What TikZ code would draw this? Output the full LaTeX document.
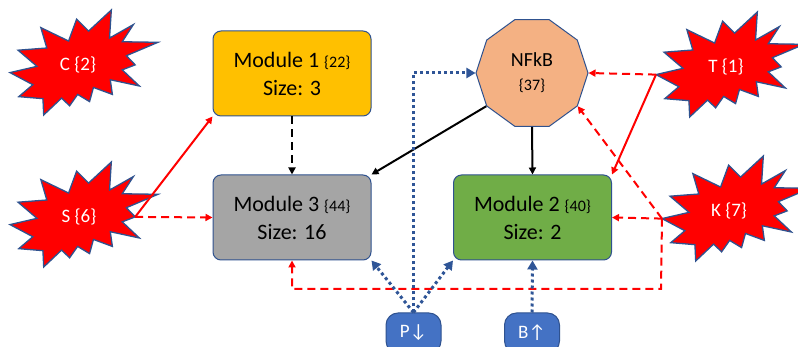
\documentclass[tikz,border=0pt]{standalone}
\usepackage{fontspec}
\setmainfont{Carlito}
\usetikzlibrary{shapes.geometric,arrows.meta,calc}
\definecolor{bblue}{HTML}{2F528F}
\definecolor{dotblue}{HTML}{2F5597}
\definecolor{m1fill}{HTML}{FFC000}
\definecolor{m3fill}{HTML}{A5A5A5}
\definecolor{m2fill}{HTML}{70AD47}
\definecolor{nffill}{HTML}{F4B183}
\definecolor{pfill}{HTML}{4472C4}
\definecolor{linkred}{HTML}{FF0000}
\newcommand{\drawburst}[2]{%
  \path[burstshape, shift={(#1,#2)}, xscale=148/216, yscale=105/216]
    (114.62,43.42) -- (97.22,18.87) -- (85.50,63.82) -- (45.02,36.25) -- (53.72,78.17)
    -- (11.72,82.70) -- (39.35,115.92) -- (0,128.77) -- (33.30,153.70) -- (12.85,178.25)
    -- (48.05,182.40) -- (49.17,216.00) -- (75.27,181.25) -- (87.00,197.12) -- (98.72,173.70)
    -- (116.12,188.42) -- (121.80,159.35) -- (149.42,173.70) -- (146.40,143.50) -- (188.77,156.32)
    -- (163.80,123.10) -- (182.70,112.90) -- (169.85,94.02) -- (216.00,66.45) -- (163.80,65.32)
    -- (180.07,30.00) -- (145.25,57.77) -- (147.90,0) -- cycle;}
\tikzset{
  burstshape/.style={fill=linkred, draw=bblue, line width=1.3pt, line join=miter},
  bursttext/.style={text=white, font=\fontsize{19}{22}\selectfont, inner sep=0pt},
  module/.style={draw=bblue, line width=1pt, rounded corners=8pt, minimum width=158pt,
    minimum height=85pt, align=center, inner sep=0pt, font=\fontsize{22}{28}\selectfont},
  hub/.style={regular polygon, regular polygon sides=10, minimum size=112pt, inner sep=0pt,
    draw=bblue, line width=1pt, fill=nffill, align=center, font=\fontsize{20}{22}\selectfont},
  pill/.style={draw=bblue, line width=1pt, fill=pfill, rounded corners=12pt, minimum width=55pt,
    minimum height=40pt, inner sep=0pt, text=white, font=\fontsize{19}{22}\selectfont},
  redsolid/.style={draw=linkred, line width=2pt, -{Triangle[length=7pt,width=7pt]}},
  reddash/.style={redsolid, dash pattern=on 8pt off 5pt},
  blacksolid/.style={draw=black, line width=2pt, -{Triangle[length=7pt,width=7pt]}},
  blackdash/.style={blacksolid, dash pattern=on 8pt off 5pt},
  bluedot/.style={draw=dotblue, line width=3pt, dash pattern=on 3pt off 3pt,
    -{Triangle[length=9pt,width=10pt]}},
}
\begin{document}
\begin{tikzpicture}[x=1pt,y=-1pt]
\useasboundingbox (0,0) rectangle (798,347);
\fill[white] (0,0) rectangle (798,347);
% starbursts
\drawburst{10}{10}
\drawburst{10}{162}
\drawburst{656}{12}
\drawburst{662}{156}
\node[bursttext] (C) at (78,65) {C \{2\}};
\node[bursttext] (S) at (79,217) {S \{6\}};
\node[bursttext] (T) at (726,67) {T \{1\}};
\node[bursttext] (K) at (729,211) {K \{7\}};
\coordinate (S-out) at (135.2,216.9);
\coordinate (T-out) at (656,74.6);
\coordinate (K-out) at (662,218.6);
\coordinate (kb) at (661,289);
% modules
\node[module, fill=m1fill] (m1) at (292,73.5) {Module 1 {\fontsize{16}{28}\selectfont\{22\}}\\Size: 3};
\node[module, fill=m3fill] (m3) at (292,217.5) {Module 3 {\fontsize{16}{28}\selectfont\{44\}}\\Size: 16};
\node[module, fill=m2fill] (m2) at (532.5,217.5) {Module 2 {\fontsize{16}{28}\selectfont\{40\}}\\Size: 2};
\node[hub] (nf) at (532,73) {NFkB\\[2pt]{\fontsize{16}{18}\selectfont\{37\}}};
\node[pill] (P) at (413.5,333) {P↓};
\node[pill] (B) at (532,333) {B↑};
% connectors
\draw[redsolid] (S-out) -- (m1.south west);
\draw[reddash] (S-out) -- (m3.west);
\draw[blackdash] (m1.south) -- (m3.north);
\draw[blacksolid] (nf.216) -- (m3.north east);
\draw[blacksolid] (nf.south) -- (m2.north);
\draw[reddash] (T-out) -- (nf.0);
\draw[redsolid] (T-out) -- (m2.north east);
\draw[reddash] (K-out) -- (nf.324);
\draw[reddash] (K-out) -- (m2.east);
\draw[reddash] (K-out) -- (kb) -- (kb -| m3.south) -- (m3.south);
\draw[bluedot] (P.north) -- (m3.south east);
\draw[bluedot] (P.north) -- (m2.south west);
\draw[bluedot] (P.north) -- (P.north |- nf.180) -- (nf.180);
\draw[bluedot] (B.north) -- (m2.south);
\end{tikzpicture}
\end{document}
